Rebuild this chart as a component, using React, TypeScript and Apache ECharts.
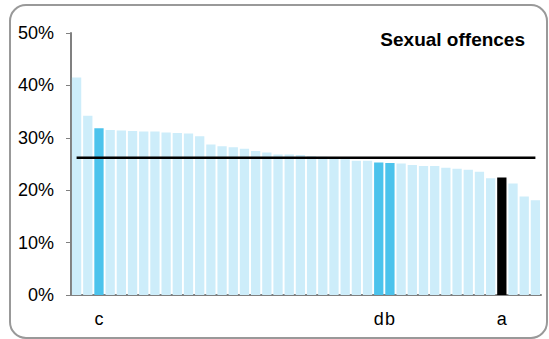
import React, { useEffect, useRef } from "react";
import * as echarts from "echarts";

const categories: string[] = [
  "", "", "c", "", "", "", "", "", "", "", "", "", "", "", "",
  "", "", "", "", "", "", "", "", "", "", "", "", "d", "b", "",
  "", "", "", "", "", "", "", "", "a", "", "", "",
];

const values: number[] = [
  41.5, 34.2, 31.8, 31.5, 31.4, 31.3, 31.2, 31.2, 31.0, 30.9, 30.8, 30.3, 28.7, 28.4,
  28.2, 27.9, 27.5, 27.2, 26.8, 26.8, 26.7, 26.5, 26.4, 26.1, 25.9, 25.6, 25.6, 25.3,
  25.2, 25.1, 24.8, 24.6, 24.6, 24.3, 24.1, 23.9, 23.5, 22.3, 22.4, 21.3, 18.8, 18.1,
];

// 0 = other, 1 = highlighted blue, 2 = black
const highlight: number[] = values.map((_, i) =>
  i === 38 ? 2 : i === 2 || i === 27 || i === 28 ? 1 : 0
);

const averageValue = 26.2;
const averageLine: number[] = values.map(() => averageValue);

const yTicks = { min: 0, max: 50, interval: 10 };

const colors = ["#cdedfa", "#4cc3ec", "#000000"];
const FONT = "'Liberation Sans', Arial, sans-serif";

export default function App() {
  const ref = useRef<HTMLDivElement>(null);
  useEffect(() => {
    if (!ref.current) return;
    const chart = echarts.init(ref.current, null, { renderer: "svg" });
    chart.setOption({
      animation: false,
      textStyle: { fontFamily: FONT },
      title: {
        text: "Sexual offences",
        right: 19,
        top: 25,
        textStyle: { fontFamily: FONT, fontSize: 19, fontWeight: "bold", color: "#000" },
      },
      graphic: [
        {
          type: "rect",
          shape: { x: 10, y: 5, width: 537, height: 333, r: 16 },
          style: { fill: "none", stroke: "#999", lineWidth: 2 },
          silent: true,
          z: -1,
        },
      ],
      grid: { left: 71, right: 8, top: 33, bottom: 44 },
      xAxis: {
        type: "category",
        data: categories,
        axisLine: { lineStyle: { color: "#808080", width: 2 } },
        axisTick: { show: false },
        axisLabel: { interval: 0, margin: 15, fontSize: 18, color: "#000", fontFamily: FONT },
      },
      yAxis: {
        type: "value",
        min: yTicks.min,
        max: yTicks.max,
        interval: yTicks.interval,
        splitLine: { show: false },
        axisLine: { show: true, lineStyle: { color: "#808080", width: 2 } },
        axisTick: { show: true, length: 5, lineStyle: { color: "#808080", width: 1 } },
        axisLabel: {
          formatter: (v: number) => v + "%",
          fontSize: 18,
          color: "#000",
          margin: 17,
          fontFamily: FONT,
        },
      },
      series: [
        {
          type: "bar",
          barCategoryGap: "17%",
          data: values.map((v, i) => ({ value: v, itemStyle: { color: colors[highlight[i]] } })),
        },
        {
          type: "line",
          data: averageLine,
          symbol: "none",
          lineStyle: { color: "#000", width: 2.5 },
          z: 3,
        },
      ],
    });
    return () => chart.dispose();
  }, []);
  return (
    <div
      ref={ref}
      style={{ position: "fixed", left: 0, top: 0, width: 549, height: 339, background: "#fff" }}
    />
  );
}
